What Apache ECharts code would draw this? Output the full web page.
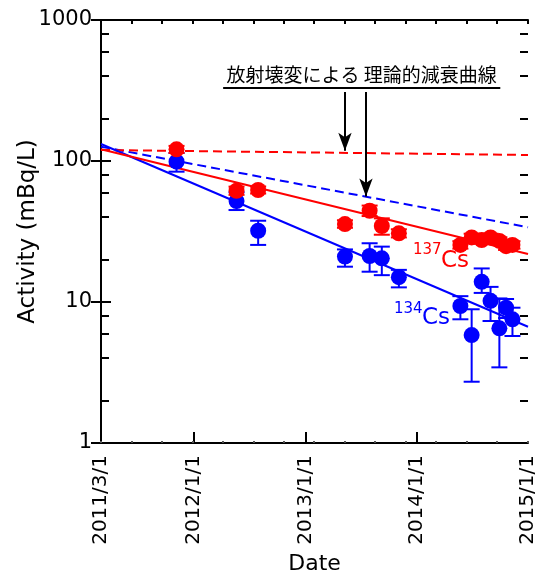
<!DOCTYPE html>
<html>
<head>
<meta charset="utf-8">
<script src="https://cdn.jsdelivr.net/npm/echarts@6/dist/echarts.min.js"></script>
<style>html,body{margin:0;padding:0;background:#fff}#c{width:537px;height:573px}</style>
</head>
<body>
<div id="c"></div>
<script>
// ---- data ----
const AXIS_START = '2011-03-01';
const AXIS_END = '2015-01-01';
const xTickDates = ['2011-03-01', '2012-01-01', '2013-01-01', '2014-01-01', '2015-01-01'];
const xTickLabels = ['2011/3/1', '2012/1/1', '2013/1/1', '2014/1/1', '2015/1/1'];
const yTickLabels = [1, 10, 100, 1000];

const cs137Dates = ['2011-11-04', '2012-05-19', '2012-07-29', '2013-05-10', '2013-07-30', '2013-09-08', '2013-11-03',
  '2014-05-24', '2014-06-30', '2014-08-02', '2014-08-31', '2014-09-29', '2014-10-21', '2014-11-11'];
const cs137Values = [121, 61.5, 62.3, 35.7, 44.4, 34.6, 30.7, 25.4, 28.7, 27.5, 28.7, 27.1, 24.9, 25.4];
const cs137Low = [114, 57.5, 58.8, 33.6, 40.7, 30.0, 28.7, 23.9, 27.0, 25.9, 27.0, 25.5, 23.4, 23.9];
const cs137High = [128, 65.8, 66.0, 38.0, 48.3, 39.2, 32.8, 27.0, 30.5, 29.2, 30.5, 28.8, 26.5, 27.0];

const cs134Dates = ['2011-11-04', '2012-05-19', '2012-07-29', '2013-05-10', '2013-07-30', '2013-09-08', '2013-11-03',
  '2014-05-24', '2014-06-30', '2014-08-02', '2014-08-31', '2014-09-29', '2014-10-21', '2014-11-11'];
const cs134Values = [98.9, 52.0, 32.0, 21.0, 21.2, 20.4, 15.0, 9.37, 5.83, 13.9, 10.2, 6.51, 9.11, 7.54];
const cs134Low = [84, 44.9, 25.4, 17.8, 16.4, 15.5, 12.7, 7.54, 2.72, 11.6, 7.33, 3.44, 7.7, 5.74];
const cs134High = [114, 60.0, 37.7, 23.6, 26.1, 24.7, 16.9, 11.0, 8.88, 17.3, 12.8, 10.6, 10.5, 9.11];

// fitted lines (solid) and theoretical decay (dashed), endpoints at the axis limits
const fitDates = ['2011-03-01', '2015-01-01'];
const cs137Fit = [121, 21.9];
const cs134Fit = [132, 6.68];
const cs137Decay = [119.7, 110.3];
const cs134Decay = [126.3, 33.9];

// annotation
const annotText = '放射壊変による 理論的減衰曲線';
const annotLineDates = ['2012-04-05', '2014-10-02'];
const annotLineValue = 330;
const arrowDates = ['2013-05-10', '2013-07-18'];
const arrowTopValue = 308;
const arrowTipValues = [118, 56];

// ---- helpers ----
const DAY = 86400000;
const t0 = Date.parse(AXIS_START + 'T00:00:00Z');
const toDay = s => (Date.parse(s + 'T00:00:00Z') - t0) / DAY;
const xMax = toDay(AXIS_END);
const xTicks = xTickDates.map(toDay);

const RED = '#ff0000', BLUE = '#0000ff';
const FONT = "'DejaVu Sans', 'Noto Sans CJK JP', sans-serif";

const pts = (dates, vals) => dates.map((d, i) => [toDay(d), vals[i]]);
const errs = (dates, lo, hi) => dates.map((d, i) => [toDay(d), lo[i], hi[i]]);

function errRender(color) {
  return function (params, api) {
    const x = api.value(0);
    const a = api.coord([x, api.value(1)]);
    const b = api.coord([x, api.value(2)]);
    const hw = 8;
    const st = { stroke: color, lineWidth: 2 };
    return {
      type: 'group',
      children: [
        { type: 'line', shape: { x1: a[0], y1: a[1], x2: b[0], y2: b[1] }, style: st },
        { type: 'line', shape: { x1: a[0] - hw, y1: a[1], x2: a[0] + hw, y2: a[1] }, style: st },
        { type: 'line', shape: { x1: b[0] - hw, y1: b[1], x2: b[0] + hw, y2: b[1] }, style: st }
      ]
    };
  };
}

const gridPos = { left: 101, right: 9, top: 20, bottom: 130, outerBoundsMode: 'none', containLabel: false };
const blackLine = { show: true, lineStyle: { color: '#000', width: 2 } };
const minorY = [2, 4, 6, 8, 20, 40, 60, 80, 200, 400, 600, 800];

const chart = echarts.init(document.getElementById('c'), null, { renderer: 'canvas' });
chart.setOption({
  animation: false,
  backgroundColor: '#fff',
  textStyle: { fontFamily: FONT },
  grid: [Object.assign({}, gridPos), Object.assign({}, gridPos)],
  xAxis: [
    {
      gridIndex: 0, type: 'value', position: 'bottom', min: 0, max: xMax,
      axisLine: blackLine,
      axisTick: { show: true, inside: true, length: 11, lineStyle: { color: '#000', width: 2 }, customValues: xTicks.slice(1, -1) },
      axisLabel: {
        show: true, rotate: 90, margin: 12, fontSize: 20, color: '#000', fontFamily: FONT,
        customValues: xTicks,
        formatter: v => { const i = xTicks.findIndex(t => Math.abs(t - v) < 0.5); return i >= 0 ? xTickLabels[i] : ''; }
      },
      splitLine: { show: false },
      name: 'Date', nameLocation: 'middle', nameGap: 110, nameMoveOverlap: false,
      nameTextStyle: { fontSize: 22, color: '#000', fontFamily: FONT }
    },
    {
      gridIndex: 0, type: 'value', position: 'top', min: 0, max: xMax, interval: 100,
      axisLine: blackLine,
      axisTick: { show: true, inside: true, length: 4, lineStyle: { color: '#000', width: 2 } },
      axisLabel: { show: false }, splitLine: { show: false }
    },
    {
      gridIndex: 1, type: 'value', position: 'bottom', min: 0, max: xMax, interval: 100,
      axisLine: { show: false },
      axisTick: { show: true, inside: true, length: 2, lineStyle: { color: '#555', width: 2 } },
      axisLabel: { show: false }, splitLine: { show: false }
    }
  ],
  yAxis: [
    {
      gridIndex: 0, type: 'log', logBase: 10, position: 'left', min: 1, max: 1000,
      axisLine: blackLine,
      axisTick: { show: true, inside: true, length: 10, lineStyle: { color: '#000', width: 2 }, customValues: yTickLabels },
      axisLabel: { show: true, margin: 9, fontSize: 21, color: '#000', fontFamily: FONT, customValues: yTickLabels,
        formatter: v => String(Math.round(v)) },
      splitLine: { show: false }, minorTick: { show: false },
      name: 'Activity (mBq/L)', nameLocation: 'middle', nameGap: 61, nameRotate: 90, nameMoveOverlap: false,
      nameTextStyle: { fontSize: 23, color: '#000', fontFamily: FONT }
    },
    {
      gridIndex: 0, type: 'log', logBase: 10, position: 'right', min: 1, max: 1000,
      axisLine: blackLine,
      axisTick: { show: true, inside: true, length: 10, lineStyle: { color: '#000', width: 2 }, customValues: yTickLabels },
      axisLabel: { show: false }, splitLine: { show: false }
    },
    {
      gridIndex: 1, type: 'log', logBase: 10, position: 'left', min: 1, max: 1000,
      axisLine: { show: false },
      axisTick: { show: true, inside: true, length: 8, lineStyle: { color: '#000', width: 2 }, customValues: minorY },
      axisLabel: { show: false }, splitLine: { show: false }
    },
    {
      gridIndex: 1, type: 'log', logBase: 10, position: 'right', min: 1, max: 1000,
      axisLine: { show: false },
      axisTick: { show: true, inside: true, length: 8, lineStyle: { color: '#000', width: 2 }, customValues: minorY },
      axisLabel: { show: false }, splitLine: { show: false }
    }
  ],
  series: [
    {
      name: '134Cs decay', type: 'line', xAxisIndex: 0, yAxisIndex: 0, data: pts(fitDates, cs134Decay),
      symbol: 'none', silent: true, lineStyle: { color: BLUE, width: 2, type: [9, 5] }, z: 2
    },
    {
      name: '137Cs decay', type: 'line', xAxisIndex: 0, yAxisIndex: 0, data: pts(fitDates, cs137Decay),
      symbol: 'none', silent: true, lineStyle: { color: RED, width: 2, type: [9, 5] }, z: 2,
      markLine: {
        silent: true, animation: false,
        symbol: ['none', 'arrow'], symbolSize: [10, 18],
        lineStyle: { color: '#000', width: 2, type: 'solid' },
        label: { show: false },
        emphasis: { disabled: true },
        data: [
          [
            { coord: [toDay(annotLineDates[0]), annotLineValue], symbol: 'none',
              label: { show: true, position: 'middle', formatter: annotText, distance: 4, fontSize: 19, color: '#000', fontFamily: "'Noto Sans CJK JP', sans-serif" } },
            { coord: [toDay(annotLineDates[1]), annotLineValue], symbol: 'none' }
          ],
          [
            { coord: [toDay(arrowDates[0]), arrowTopValue], symbol: 'none' },
            { coord: [toDay(arrowDates[0]), arrowTipValues[0]] }
          ],
          [
            { coord: [toDay(arrowDates[1]), arrowTopValue], symbol: 'none' },
            { coord: [toDay(arrowDates[1]), arrowTipValues[1]] }
          ]
        ]
      }
    },
    {
      name: '134Cs fit', type: 'line', xAxisIndex: 0, yAxisIndex: 0, data: pts(fitDates, cs134Fit),
      symbol: 'none', silent: true, lineStyle: { color: BLUE, width: 2 }, z: 3
    },
    {
      name: '137Cs fit', type: 'line', xAxisIndex: 0, yAxisIndex: 0, data: pts(fitDates, cs137Fit),
      symbol: 'none', silent: true, lineStyle: { color: RED, width: 2 }, z: 3
    },
    {
      name: '134Cs err', type: 'custom', xAxisIndex: 0, yAxisIndex: 0, data: errs(cs134Dates, cs134Low, cs134High),
      renderItem: errRender(BLUE), silent: true, z: 4
    },
    {
      name: '134Cs', type: 'scatter', xAxisIndex: 0, yAxisIndex: 0, data: pts(cs134Dates, cs134Values),
      symbol: 'circle', symbolSize: 16, itemStyle: { color: BLUE, opacity: 1 }, silent: true, z: 5
    },
    {
      name: '137Cs err', type: 'custom', xAxisIndex: 0, yAxisIndex: 0, data: errs(cs137Dates, cs137Low, cs137High),
      renderItem: errRender(RED), silent: true, z: 6
    },
    {
      name: '137Cs', type: 'scatter', xAxisIndex: 0, yAxisIndex: 0, data: pts(cs137Dates, cs137Values),
      symbol: 'circle', symbolSize: 16, itemStyle: { color: RED, opacity: 1 }, silent: true, z: 7
    }
  ],
  graphic: [
    { type: 'text', left: 413, top: 243, silent: true, style: { text: '137', font: '15px ' + FONT, fill: RED } },
    { type: 'text', left: 441, top: 250, silent: true, style: { text: 'Cs', font: '23px ' + FONT, fill: RED } },
    { type: 'text', left: 394, top: 302, silent: true, style: { text: '134', font: '15px ' + FONT, fill: BLUE } },
    { type: 'text', left: 422, top: 307, silent: true, style: { text: 'Cs', font: '23px ' + FONT, fill: BLUE } }
  ]
});
</script>
</body>
</html>
